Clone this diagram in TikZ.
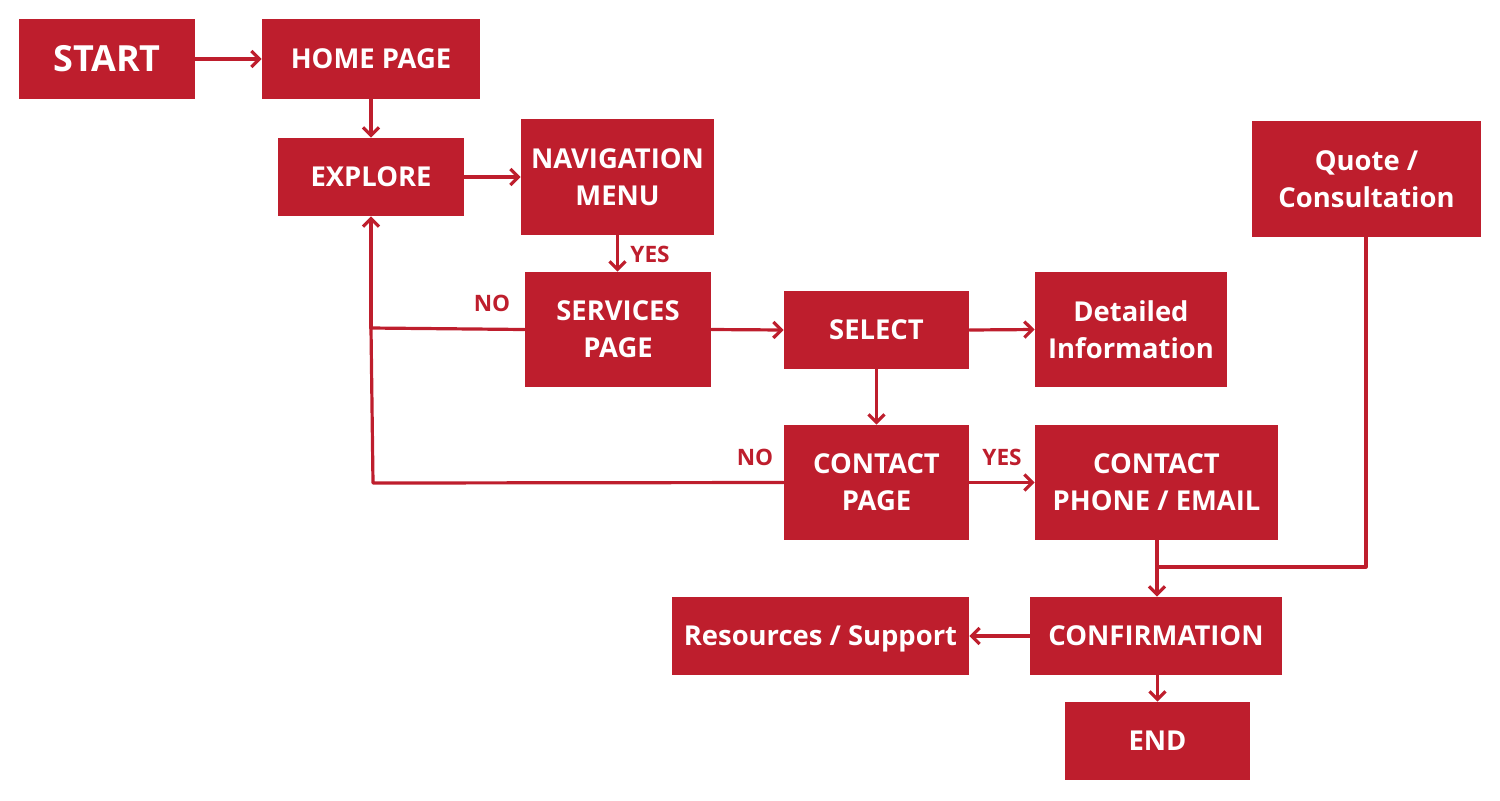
\documentclass[tikz,border=0pt]{standalone}
\usepackage{fontspec}
\setmainfont{Open Sans}
\usetikzlibrary{arrows.meta}
\definecolor{brand}{HTML}{BE1E2D}
\begin{document}
\begin{tikzpicture}[x=0.5pt,y=-0.5pt,
  box/.style={fill=brand,text=white,font=\bfseries\fontsize{13.7}{18.5}\selectfont,align=center,inner sep=0pt},
  conn/.style={draw=brand,line width=1.6pt,line cap=round,line join=round},
  arr/.style={conn,-{Straight Barb[length=4pt,width=8pt,line width=1.6pt]}},
  lbl/.style={text=brand,font=\bfseries\fontsize{11.3}{13}\selectfont,inner sep=0pt}]
\useasboundingbox (0,0) rectangle (1500,800);
\def\bx#1#2#3#4#5#6{\node[box,minimum width={(#4-#2)*0.5pt},minimum height={(#5-#3)*0.5pt}] (#1) at ({(#2+#4)/2},{(#3+#5)/2}) {#6};}
\bx{start}{19}{19}{195}{99}{\fontsize{18}{20}\selectfont START}
\bx{home}{262}{19}{480}{99}{HOME PAGE}
\bx{explore}{278}{138}{464}{216}{EXPLORE}
\bx{nav}{521}{119}{714}{235}{NAVIGATION\\MENU}
\bx{serv}{525}{272}{711}{387}{SERVICES\\PAGE}
\bx{select}{784}{291}{969}{369}{SELECT}
\bx{detail}{1035}{272}{1227}{387}{Detailed\\Information}
\bx{quote}{1252}{121}{1481}{237}{Quote /\\Consultation}
\bx{contact}{784}{425}{969}{540}{CONTACT\\PAGE}
\bx{phone}{1035}{425}{1278}{540}{CONTACT\\PHONE / EMAIL}
\bx{confirm}{1030}{597}{1282}{675}{CONFIRMATION}
\node[box,minimum width={297*0.5pt},minimum height={78*0.5pt},text depth=0pt] (res) at (820.5,636) {Resources / Support};
\bx{end}{1065}{702}{1250}{780}{END}

\draw[arr] (start.east) -- (home.west);
\draw[arr] (home.south) -- (explore.north);
\draw[arr] (explore.east) -- (nav.west);
\draw[arr] (nav.south) -- (serv.north -| nav.south);
\node[lbl] (yes1) at (650,254) {YES};
\coordinate (j1) at (371,328);
\draw[conn] (serv.west) -- (j1);
\coordinate (j2) at (373,483);
\draw[conn] (contact.west) -- (j2) -- (j1);
\draw[arr] (j1) -- (explore.south);
\node[lbl] (no1) at (492,303) {NO};
\draw[arr] (serv.east) -- (select.west);
\draw[arr] (select.east) -- (detail.west);
\draw[arr] (select.south) -- (contact.north);
\node[lbl] (no2) at (755,457) {NO};
\draw[arr] (contact.east) -- (phone.west);
\node[lbl] (yes2) at (1002,457) {YES};
\coordinate (j3) at (1157,567);
\coordinate (q1) at (1366,567);
\draw[conn] (quote.south -| q1) -- (q1) -- (j3);
\draw[arr] (phone.south -| j3) -- (confirm.north -| j3);
\draw[arr] (confirm.west) -- (res.east);
\draw[arr] (confirm.south -| end.north) -- (end.north);
\end{tikzpicture}
\end{document}
